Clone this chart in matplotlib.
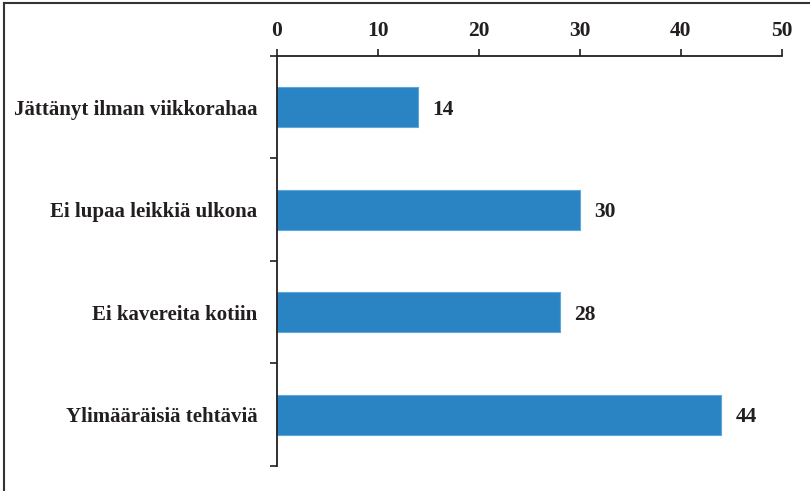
import matplotlib.pyplot as plt
from matplotlib.lines import Line2D
import numpy as np

# Data
categories = ['Jättänyt ilman viikkorahaa', 'Ei lupaa leikkiä ulkona',
              'Ei kavereita kotiin', 'Ylimääräisiä tehtäviä']
values = [14, 30, 28, 44]
x_ticks = [0, 10, 20, 30, 40, 50]

plt.rcParams['font.family'] = ['Liberation Serif', 'DejaVu Serif']
plt.rcParams['font.weight'] = 'bold'

fig = plt.figure(figsize=(8.1, 4.91), dpi=100)
ax = fig.add_axes([0.342, 0.051, 0.6234, 0.835])

y = np.arange(len(categories))
ax.barh(y, values, height=0.39, color='#2a84c4', edgecolor='#5fa6da', linewidth=0.8)

for yi, v in zip(y, values):
    ax.text(v + 1.4, yi, str(v), va='center_baseline', ha='left', fontsize=15.5,
            fontweight='bold', color='#231f20')

ax.set_xlim(0, 50)
ax.set_ylim(len(categories) - 0.5, -0.5)

# x axis on top
ax.xaxis.tick_top()
ax.set_xticks(x_ticks)
ax.set_xticklabels([str(t) for t in x_ticks], fontsize=15.5, fontweight='bold', color='#231f20')
ax.tick_params(axis='x', direction='out', length=5, width=1.2, pad=6, color='#231f20')

# category labels at bar centres, tick marks at boundaries
ax.set_yticks(y)
ax.set_yticklabels(categories, fontsize=15, fontweight='bold', color='#231f20')
ax.tick_params(axis='y', which='major', length=0, pad=14)
ax.set_yticks(np.arange(len(categories) + 1) - 0.5, minor=True)
ax.tick_params(axis='y', which='minor', direction='out', length=5, width=1.2, color='#231f20')

for s in ['right', 'bottom']:
    ax.spines[s].set_visible(False)
for s in ['left', 'top']:
    ax.spines[s].set_linewidth(1.3)
    ax.spines[s].set_color('#231f20')

# frame around the figure (left and top edges visible)
fig.add_artist(Line2D([0.005, 0.005], [0, 0.994], transform=fig.transFigure,
                      color='#333333', linewidth=1.5))
fig.add_artist(Line2D([0.005, 1.0], [0.994, 0.994], transform=fig.transFigure,
                      color='#333333', linewidth=1.5))

plt.savefig('out.png', dpi=100)
